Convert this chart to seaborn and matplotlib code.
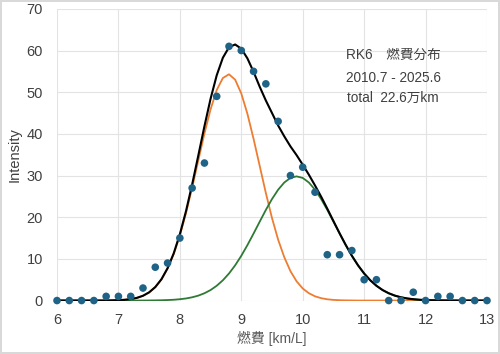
import numpy as np
import pandas as pd
import seaborn as sns
import matplotlib.pyplot as plt

# measured points (every 0.2 km/L)
fuel = [6.0, 6.2, 6.4, 6.6, 6.8, 7.0, 7.2, 7.4, 7.6, 7.8, 8.0, 8.2, 8.4, 8.6, 8.8, 9.0, 9.2, 9.4,
        9.6, 9.8, 10.0, 10.2, 10.4, 10.6, 10.8, 11.0, 11.2, 11.4, 11.6, 11.8, 12.0, 12.2, 12.4,
        12.6, 12.8, 13.0]
counts = [0, 0, 0, 0, 1, 1, 1, 3, 8, 9, 15, 27, 33, 49, 61, 60, 55, 52,
          43, 30, 32, 26, 11, 11, 12, 5, 5, 0, 0, 2, 0, 1, 1,
          0, 0, 0]

# fitted curves, every 0.1 km/L
curve_x = [6.0, 6.1, 6.2, 6.3, 6.4, 6.5, 6.6, 6.7, 6.8, 6.9,
           7.0, 7.1, 7.2, 7.3, 7.4, 7.5, 7.6, 7.7, 7.8, 7.9,
           8.0, 8.1, 8.2, 8.3, 8.4, 8.5, 8.6, 8.7, 8.8, 8.9,
           9.0, 9.1, 9.2, 9.3, 9.4, 9.5, 9.6, 9.7, 9.8, 9.9,
           10.0, 10.1, 10.2, 10.3, 10.4, 10.5, 10.6, 10.7, 10.8, 10.9,
           11.0, 11.1, 11.2, 11.3, 11.4, 11.5, 11.6, 11.7, 11.8, 11.9,
           12.0, 12.1, 12.2, 12.3, 12.4, 12.5, 12.6, 12.7, 12.8, 12.9,
           13.0]
peak1 = [0, 0, 0, 0, 0, 0, 0, 0, 0, 0.04,
         0.09, 0.18, 0.35, 0.64, 1.14, 1.95, 3.2, 5.04, 7.65, 11.14,
         15.59, 20.96, 27.07, 33.6, 40.07, 45.9, 50.5, 53.4, 54.3, 53.0,
         49.7, 44.8, 38.8, 32.3, 25.8, 19.8, 14.6, 10.4, 7.06, 4.62,
         2.9, 1.76, 1.02, 0.57, 0.3, 0.16, 0.08, 0.04, 0.02, 0,
         0, 0, 0, 0, 0, 0, 0, 0, 0, 0,
         0, 0, 0, 0, 0, 0, 0, 0, 0, 0,
         0]
peak2 = [0, 0, 0, 0, 0, 0, 0, 0, 0, 0,
         0, 0, 0, 0, 0.01, 0.02, 0.04, 0.07, 0.12, 0.19,
         0.32, 0.5, 0.78, 1.18, 1.75, 2.52, 3.55, 4.86, 6.49, 8.45,
         10.74, 13.31, 16.08, 18.93, 21.75, 24.36, 26.6, 28.33, 29.43, 29.8,
         29.43, 28.33, 26.6, 24.36, 21.75, 18.93, 16.08, 13.31, 10.74, 8.45,
         6.49, 4.86, 3.55, 2.52, 1.75, 1.18, 0.78, 0.5, 0.32, 0.19,
         0.12, 0.07, 0.04, 0.02, 0.01, 0, 0, 0, 0, 0,
         0]
total = [0, 0, 0, 0, 0, 0, 0, 0, 0, 0.04,
         0.09, 0.18, 0.35, 0.64, 1.15, 1.97, 3.24, 5.11, 7.77, 11.33,
         15.91, 21.46, 27.85, 34.78, 41.82, 48.42, 54.05, 58.26, 60.79, 61.45,
         60.44, 58.11, 54.88, 51.3, 48.0, 45.0, 42.0, 39.4, 37.0, 34.9,
         32.6, 30.2, 27.62, 24.93, 22.05, 19.09, 16.16, 13.35, 10.76, 8.46,
         6.49, 4.86, 3.55, 2.52, 1.75, 1.18, 0.78, 0.5, 0.32, 0.19,
         0.12, 0.07, 0.04, 0.02, 0.01, 0, 0, 0, 0, 0,
         0]

info_lines = ["RK6\u3000燃費分布", "2010.7 - 2025.6", "total  22.6万km"]

sns.set_style("whitegrid")
plt.rcParams['font.family'] = ['Liberation Sans', 'Noto Sans CJK JP', 'DejaVu Sans']

fig = plt.figure(figsize=(5, 3.54), dpi=100)
fig.patch.set_edgecolor('#d9d9d9')
fig.patch.set_linewidth(1.5)
ax = fig.add_axes([0.114, 0.151, 0.86, 0.824])

curves = pd.DataFrame({'x': curve_x, 'p1': peak1, 'p2': peak2, 'sum': total})
sns.lineplot(data=curves, x='x', y='p1', ax=ax, color='#ed7d31', linewidth=1.3)
sns.lineplot(data=curves, x='x', y='p2', ax=ax, color='#2e7a35', linewidth=1.3)
sns.lineplot(data=curves, x='x', y='sum', ax=ax, color='black', linewidth=1.5)
sns.scatterplot(x=fuel, y=counts, ax=ax, color='#1f6386', s=30, edgecolor='none',
                zorder=5, clip_on=False)

ax.set_xlim(6, 13)
ax.set_ylim(0, 70)
ax.set_xticks(range(6, 14))
ax.set_yticks(range(0, 71, 10))
ax.grid(True, color='#e3e3e3', linewidth=0.8)
for s in ax.spines.values():
    s.set_visible(False)
ax.tick_params(axis='both', length=0, labelsize=10.5, colors='#404040')
ax.tick_params(axis='y', pad=10)
ax.tick_params(axis='x', pad=9)
ax.set_xlabel('燃費 [km/L]', fontsize=10, color='#595959')
ax.set_ylabel('Intensity', fontsize=10.5, color='#404040')
ax.xaxis.set_label_coords(0.5, -0.105)
ax.yaxis.set_label_coords(-0.083, 0.5)

for yy, line in zip([59, 53.4, 48.6], info_lines):
    ax.text(11.47, yy, line, ha='center', va='center', fontsize=9.8, color='#404040')

fig.savefig('out.png', dpi=100)
